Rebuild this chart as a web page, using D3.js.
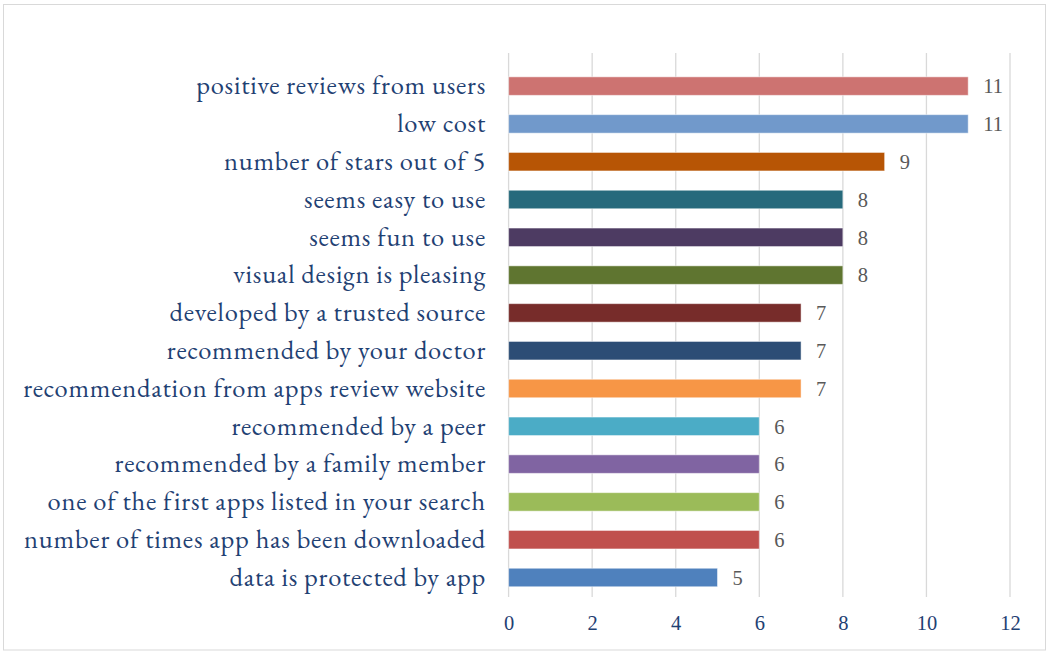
<!DOCTYPE html>
<html><head><meta charset="utf-8">
<script src="https://cdn.jsdelivr.net/npm/d3@7"></script>
<style>html,body{margin:0;padding:0;background:#fff;}svg{display:block;}</style>
</head><body>
<svg id="chart" width="1050" height="656"></svg>
<script>
const categories = [
  "positive reviews from users",
  "low cost",
  "number of stars out of 5",
  "seems easy to use",
  "seems fun to use",
  "visual design is pleasing",
  "developed by a trusted source",
  "recommended by your doctor",
  "recommendation from apps review website",
  "recommended by a peer",
  "recommended by a family member",
  "one of the first apps listed in your search",
  "number of times app has been downloaded",
  "data is protected by app"
];
const values = [11, 11, 9, 8, 8, 8, 7, 7, 7, 6, 6, 6, 6, 5];
const colors = ["#cd7371","#7199cb","#b75505","#276a7c","#4d3b62","#5f7530","#772c2a",
  "#2c4d75","#f79646","#4bacc6","#8064a2","#9bbb59","#c0504d","#4f81bd"];
const xTicks = [0, 2, 4, 6, 8, 10, 12];

const svg = d3.select("#chart");
svg.append("rect").attr("x", 3.5).attr("y", 4.5).attr("width", 1042).attr("height", 645.5)
  .attr("fill", "#fff").attr("stroke", "#d9d9d9").attr("stroke-width", 1);

const x = d3.scaleLinear().domain([0, 12]).range([508.6, 1010]);
const y = d3.scaleBand().domain(categories).range([67.2, 596.4]).paddingInner(0.51).paddingOuter(0.255);

const gridTop = 53, gridBottom = 597;
svg.append("g").selectAll("line").data(xTicks).join("line")
  .attr("x1", d => x(d)).attr("x2", d => x(d))
  .attr("y1", gridTop).attr("y2", gridBottom)
  .attr("stroke", "#d9d9d9").attr("stroke-width", 1.3);

svg.append("g").selectAll("rect").data(categories).join("rect")
  .attr("x", x(0)).attr("y", d => y(d))
  .attr("width", (d, i) => x(values[i]) - x(0))
  .attr("height", y.bandwidth())
  .attr("fill", (d, i) => colors[i])
  .attr("stroke", "#ffffff").attr("stroke-opacity", 0.5).attr("stroke-width", 1);

const font = "'EB Garamond','Garamond','Liberation Serif','Times New Roman',serif";
const numFont = "'Liberation Serif','Times New Roman',serif";

svg.append("g").selectAll("text").data(categories).join("text")
  .attr("x", 486).attr("y", d => y(d) + y.bandwidth() / 2)
  .attr("dy", "0.31em").attr("text-anchor", "end")
  .attr("font-family", font).attr("font-size", 26.5).attr("letter-spacing", 0.75)
  .attr("fill", "#1f4173")
  .text(d => d);

svg.append("g").selectAll("text").data(categories).join("text")
  .attr("x", (d, i) => x(values[i]) + 15).attr("y", d => y(d) + y.bandwidth() / 2)
  .attr("dy", "0.36em").attr("text-anchor", "start")
  .attr("font-family", numFont).attr("font-size", 20.5)
  .attr("fill", "#595959")
  .text((d, i) => values[i]);

const axis = d3.axisBottom(x).tickValues(xTicks).tickSize(0).tickPadding(0);
const ag = svg.append("g").attr("transform", `translate(0,${gridBottom})`).call(axis);
ag.select(".domain").remove();
ag.selectAll("text").attr("y", 33).attr("dy", 0)
  .attr("font-family", numFont).attr("font-size", 20.5)
  .attr("fill", "#1f4173");
</script>
</body></html>
